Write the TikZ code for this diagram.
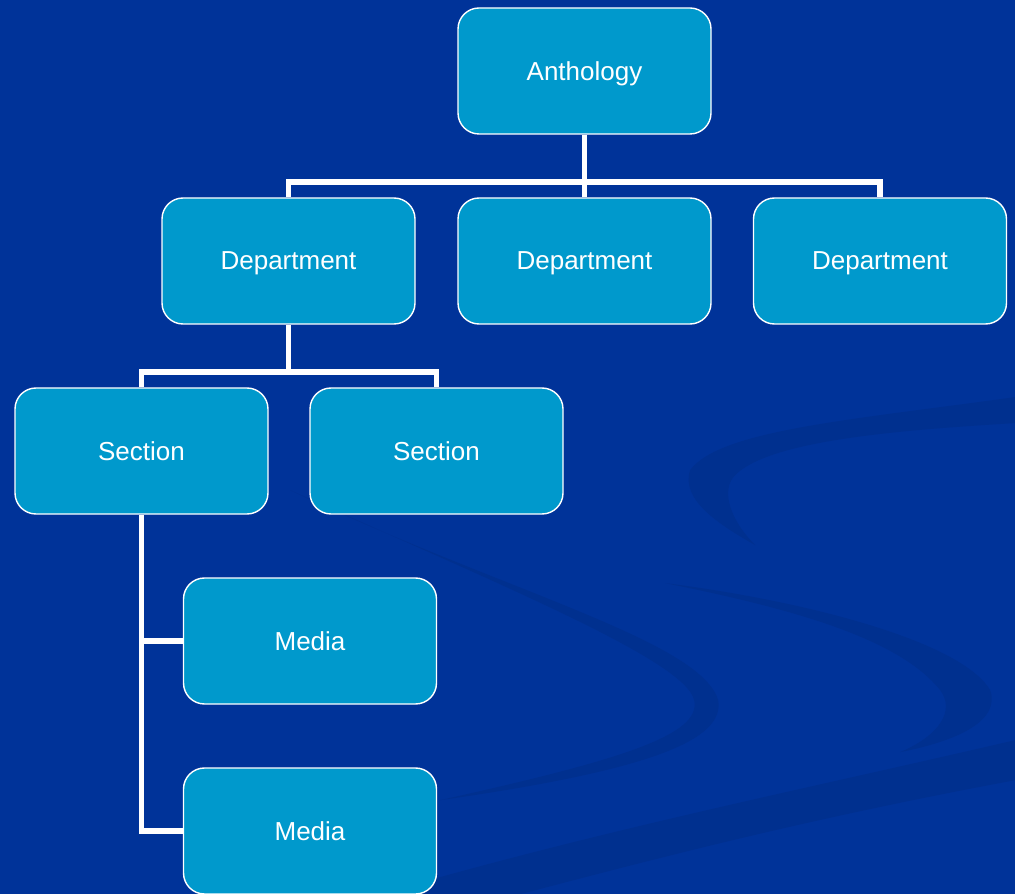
\documentclass[tikz,border=0pt]{standalone}
\usepackage{fontspec}
\setmainfont{Liberation Sans}
\usepackage{tikz}

\definecolor{bgblue}{HTML}{003399}
\definecolor{swoosh}{HTML}{00308F}
\definecolor{boxblue}{HTML}{0099CC}

\begin{document}
\begin{tikzpicture}[
    unit/.style={draw=white, line width=0.8pt, fill=boxblue, rounded corners=0.42cm,
      minimum width=5.06cm, minimum height=2.52cm, inner sep=0pt, text depth=0pt,
      text=white, font=\fontsize{14.8}{18}\selectfont},
    link/.style={draw=white, line width=3.4pt}
  ]
  % background
  \fill[bgblue] (0,0) rectangle (20.3,-17.88);
  \useasboundingbox (0,0) rectangle (20.3,-17.88);

  % swooshes
  \begin{scope}[x=0.02cm, y=-0.02cm]
    \fill[swoosh] (1015,397) .. controls (850,420) and (720,430) .. (690,470)
      .. controls (680,500) and (720,525) .. (755,545)
      .. controls (730,520) and (720,490) .. (735,475)
      .. controls (770,440) and (900,430) .. (1015,423) -- cycle;
    \fill[swoosh] (665,583) .. controls (800,600) and (960,640) .. (990,690)
      .. controls (1000,720) and (960,740) .. (900,752)
      .. controls (940,735) and (955,710) .. (940,690)
      .. controls (900,640) and (800,610) .. (665,583) -- cycle;
    \fill[swoosh] (290,490) .. controls (500,590) and (700,640) .. (718,700)
      .. controls (725,740) and (650,770) .. (440,800)
      .. controls (620,760) and (702,735) .. (694,700)
      .. controls (685,660) and (500,585) .. (290,490) -- cycle;
    \fill[swoosh] (380,894) .. controls (600,830) and (800,790) .. (1015,740)
      -- (1015,780) .. controls (800,820) and (650,860) .. (520,894) -- cycle;
  \end{scope}

  % boxes
  \node[unit] (anth) at (11.69,-1.42) {Anthology};
  \node[unit] (dep1) at (5.77,-5.22) {Department};
  \node[unit] (dep2) at (11.69,-5.22) {Department};
  \node[unit] (dep3) at (17.60,-5.22) {Department};
  \node[unit] (sec1) at (2.83,-9.02) {Section};
  \node[unit] (sec2) at (8.73,-9.02) {Section};
  \node[unit] (med1) at (6.20,-12.82) {Media};
  \node[unit] (med2) at (6.20,-16.62) {Media};

  % links
  \draw[link] (anth.south) -- ++(0,-0.94) coordinate (bus1);
  \draw[link] (dep1.north) |- (bus1) -| (dep3.north);
  \draw[link] (bus1) -- (dep2.north);
  \draw[link] (dep1.south) -- ++(0,-0.94) coordinate (bus2);
  \draw[link] (sec1.north) |- (bus2) -| (sec2.north);
  \draw[link] (sec1.south) |- (med2.west);
  \draw[link] (sec1.south |- med1.west) -- (med1.west);
\end{tikzpicture}
\end{document}
